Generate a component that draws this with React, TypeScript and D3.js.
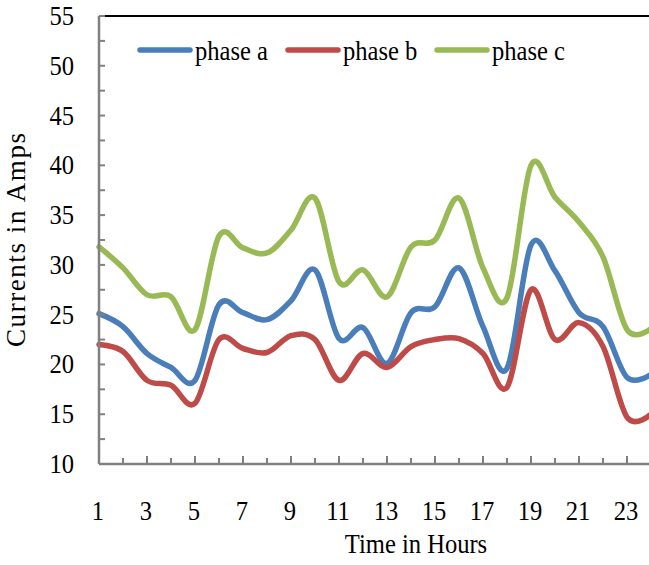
import React from "react";
import * as d3 from "d3";

const hours = d3.range(1, 25);
const phaseA = [25.1, 23.8, 21.1, 19.7, 18.4, 26.0, 25.2, 24.5, 26.4, 29.5, 22.6, 23.7, 20.1, 25.2, 25.8, 29.7, 23.8, 19.6, 32.0, 29.4, 25.2, 23.8, 18.7, 19.0];
const phaseB = [22.0, 21.3, 18.4, 17.9, 16.1, 22.5, 21.6, 21.2, 22.9, 22.5, 18.4, 21.1, 19.7, 21.8, 22.5, 22.6, 21.1, 17.7, 27.5, 22.5, 24.2, 21.8, 14.7, 15.0];
const phaseC = [31.8, 29.7, 27.0, 26.8, 23.5, 32.9, 31.7, 31.2, 33.5, 36.7, 28.3, 29.5, 26.8, 31.8, 32.5, 36.7, 29.7, 26.7, 40.0, 36.8, 34.3, 30.8, 23.5, 23.6];
const seriesNames = ["phase a", "phase b", "phase c"];
const seriesColors = ["#4A7EBB", "#BE4B48", "#98B954"];
const yTicks = [10, 15, 20, 25, 30, 35, 40, 45, 50, 55];
const xLabels = [1, 3, 5, 7, 9, 11, 13, 15, 17, 19, 21, 23];

const W = 649;
const H = 565;
const FONT = "'Liberation Serif', 'Times New Roman', serif";
const FS = 27;
const SX = 0.91;

function T(props: { x: number; y: number; anchor?: string; children: React.ReactNode }) {
  return (
    <g transform={`translate(${props.x},${props.y}) scale(${SX},1)`}>
      <text x={0} y={0} textAnchor={props.anchor || "start"} fontSize={FS} fill="#000">
        {props.children}
      </text>
    </g>
  );
}

export default function App() {
  React.useEffect(() => {
    document.body.style.margin = "0";
  }, []);
  const x = d3.scaleLinear().domain([1, 24]).range([99, 651]);
  const y = d3.scaleLinear().domain([10, 55]).range([464, 16]);
  const line = d3
    .line<number>()
    .x((_, i) => x(hours[i]))
    .y((d) => y(d))
    .curve(d3.curveCardinal.tension(0));
  const series = [phaseA, phaseB, phaseC];
  const minorY = d3.range(10, 55.01, 2.5);
  const axisColor = "#808080";
  const legendX = [140, 288, 437];
  return (
    <svg width={W} height={H} style={{ display: "block", background: "#fff" }} fontFamily={FONT}>
      <line x1={x(1)} x2={W} y1={y(55)} y2={y(55)} stroke="#000" strokeWidth={2} />
      <g>
        {series.map((s, i) => (
          <path key={i} d={line(s) || ""} fill="none" stroke={seriesColors[i]} strokeWidth={5.5} strokeLinejoin="round" strokeLinecap="round" />
        ))}
      </g>
      <line x1={x(1)} x2={x(1)} y1={y(55)} y2={y(10)} stroke={axisColor} strokeWidth={2.5} />
      {minorY.map((v) => (
        <line key={v} x1={x(1)} x2={x(1) + 6} y1={y(v)} y2={y(v)} stroke={axisColor} strokeWidth={2} />
      ))}
      {yTicks.map((v) => (
        <T key={v} x={74} y={y(v) + 9} anchor="end">
          {v}
        </T>
      ))}
      <line x1={x(1)} x2={W} y1={y(10)} y2={y(10)} stroke={axisColor} strokeWidth={2.5} />
      {hours.slice(1).map((h) => (
        <line key={h} x1={x(h)} x2={x(h)} y1={y(10)} y2={y(10) - (h % 2 === 1 ? 8 : 6)} stroke={axisColor} strokeWidth={2} />
      ))}
      {xLabels.map((h) => (
        <T key={h} x={x(h) - 1} y={520} anchor="middle">
          {h}
        </T>
      ))}
      <T x={416} y={553} anchor="middle">
        Time in Hours
      </T>
      <text
        transform={`translate(25,240) rotate(-90)`}
        textAnchor="middle"
        fontSize={FS}
        fill="#000"
        textLength={214}
        lengthAdjust="spacing"
      >
        Currents in  Amps
      </text>
      {seriesNames.map((n, i) => (
        <g key={n}>
          <line x1={legendX[i]} x2={legendX[i] + 50} y1={50} y2={50} stroke={seriesColors[i]} strokeWidth={5.5} strokeLinecap="round" />
          <T x={legendX[i] + 55} y={60}>
            {n}
          </T>
        </g>
      ))}
    </svg>
  );
}
